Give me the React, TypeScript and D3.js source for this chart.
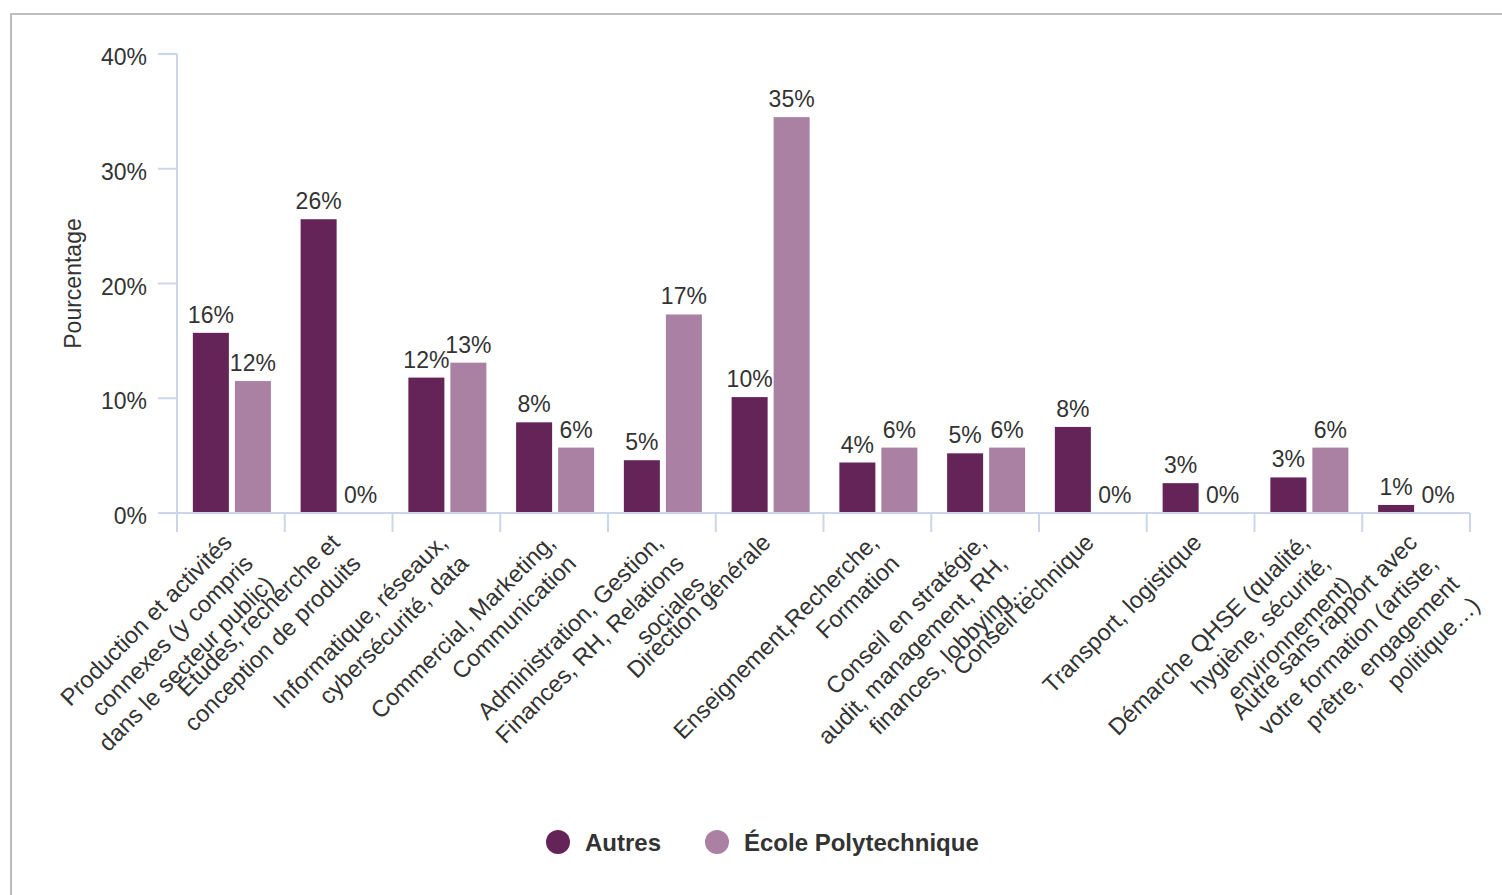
import React from "react";
import * as d3 from "d3";

const categories: string[][] = [
  ["Production et activités", "connexes (y compris", "dans le secteur public)"],
  ["Études, recherche et", "conception de produits"],
  ["Informatique, réseaux,", "cybersécurité, data"],
  ["Commercial, Marketing,", "Communication"],
  ["Administration, Gestion,", "Finances, RH, Relations", "sociales"],
  ["Direction générale"],
  ["Enseignement,Recherche,", "Formation"],
  ["Conseil en stratégie,", "audit, management, RH,", "finances, lobbying…"],
  ["Conseil technique"],
  ["Transport, logistique"],
  ["Démarche QHSE (qualité,", "hygiène, sécurité,", "environnement)"],
  ["Autre sans rapport avec", "votre formation (artiste,", "prêtre, engagement", "politique…)"],
];

const seriesNames = ["Autres", "École Polytechnique"];
const autres = [15.7, 25.6, 11.8, 7.9, 4.6, 10.1, 4.4, 5.2, 7.5, 2.6, 3.1, 0.7];
const polytechnique = [11.5, 0, 13.1, 5.7, 17.3, 34.5, 5.7, 5.7, 0, 0, 5.7, 0];
const seriesColors = ["#642457", "#ab81a3"];
const yTicks = [0, 10, 20, 30, 40];
const yTitle = "Pourcentage";

const FONT = "'Liberation Sans', Arial, Helvetica, sans-serif";

export default function App() {
  const left = 177, right = 1470, top = 54, bottom = 513;
  const values = [autres, polytechnique];
  const catIdx = categories.map((_, i) => String(i));
  const x0 = d3.scaleBand<string>().domain(catIdx).range([left, right]).paddingInner(0).paddingOuter(0);
  const bw = x0.bandwidth();
  const x1 = d3.scaleBand<string>().domain(seriesNames).range([1, bw + 1]).paddingInner(1 / 7).paddingOuter(0.354);
  const y = d3.scaleLinear().domain([0, 40]).range([bottom, top]);
  const fmt = (v: number) => d3.format(".0f")(v) + "%";
  const axisColor = "#ccd6eb";
  const textColor = "#333333";
  const boundaries = catIdx.map((c) => x0(c)!).concat([right]);

  return (
    <div style={{ position: "fixed", left: 0, top: 0, width: 1502, height: 895, background: "#fff" }}>
      <svg width={1502} height={895} style={{ display: "block", fontFamily: FONT }}>
        <rect x={11} y={14} width={1500} height={900} fill="#fff" stroke="#bdbdbd" strokeWidth={2} />
        {/* y axis */}
        <line x1={left} x2={left} y1={top} y2={bottom} stroke={axisColor} strokeWidth={2} />
        {yTicks.map((t) => (
          <g key={t}>
            <line x1={158} x2={left} y1={y(t)} y2={y(t)} stroke={axisColor} strokeWidth={2} />
            <text x={147} y={y(t) + 11} textAnchor="end" fontSize={23} fill={textColor}>
              {t + "%"}
            </text>
          </g>
        ))}
        <text transform={`translate(81,${(top + bottom) / 2}) rotate(-90)`} textAnchor="middle" fontSize={23} fill={textColor}>
          {yTitle}
        </text>
        {/* bars */}
        {seriesNames.map((s, si) =>
          catIdx.map((c, ci) => {
            const v = values[si][ci];
            const bx = x0(c)! + x1(s)!;
            return (
              <g key={s + c}>
                <rect x={bx} y={y(v)} width={x1.bandwidth()} height={bottom - y(v)} fill={seriesColors[si]} />
                <text x={bx + x1.bandwidth() / 2} y={y(v) - 10} textAnchor="middle" fontSize={23} fill={textColor}>
                  {fmt(v)}
                </text>
              </g>
            );
          })
        )}
        {/* x axis */}
        <line x1={left} x2={right} y1={bottom} y2={bottom} stroke={axisColor} strokeWidth={2} />
        {boundaries.map((bx, i) => (
          <line key={i} x1={bx} x2={bx} y1={bottom} y2={bottom + 19} stroke={axisColor} strokeWidth={2} />
        ))}
        {categories.map((lines, ci) => {
          const cx = x0(String(ci))! + bw / 2 + 2.5;
          return (
            <text key={ci} transform={`translate(${cx},${bottom + 31}) rotate(-45)`} textAnchor="end" fontSize={23.6} fill={textColor}>
              {lines.map((ln, li) => (
                <tspan key={li} x={0} dy={li === 0 ? 0 : 29.5}>
                  {ln}
                </tspan>
              ))}
            </text>
          );
        })}
        {/* legend */}
        {seriesNames.map((s, si) => {
          const lx = si === 0 ? 558 : 717;
          return (
            <g key={s}>
              <circle cx={lx} cy={842} r={12} fill={seriesColors[si]} />
              <text x={lx + 27} y={851} fontSize={24} fontWeight="bold" fill={textColor}>
                {s}
              </text>
            </g>
          );
        })}
      </svg>
    </div>
  );
}
